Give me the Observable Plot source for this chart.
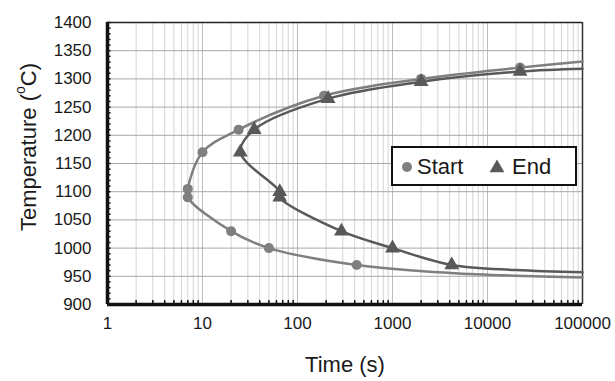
<!DOCTYPE html>
<html>
<head>
<meta charset="utf-8">
<script src="https://cdn.jsdelivr.net/npm/d3@7"></script>
<script src="https://cdn.jsdelivr.net/npm/@observablehq/plot@0.6"></script>
<style>
  html, body { margin: 0; padding: 0; background: #fff; }
  #chart svg { display: block; }
</style>
</head>
<body>
<div id="chart"></div>
<script>
// Measured transformation start / end points (time in s, temperature in °C)
const startTime = [24, 10, 7, 7, 20, 50, 190, 2000, 22000, 420];
const startTemp = [1210, 1170, 1105, 1090, 1030, 1000, 1270, 1300, 1320, 970];
const endTime = [35, 25, 65, 65, 290, 1000, 4200, 210, 2000, 22000];
const endTemp = [1210, 1170, 1100, 1090, 1030, 1000, 970, 1265, 1295, 1313];

// Fitted C-curves, ordered along the curve from the upper branch to the lower branch
const startCurveTime = [100000, 22000, 2000, 190, 24, 10, 7, 7, 20, 50, 420, 4000, 100000];
const startCurveTemp = [1331, 1320, 1300, 1270, 1210, 1170, 1105, 1090, 1030, 1000, 970, 956, 948];
const endCurveTime = [100000, 22000, 2000, 210, 35, 25, 65, 65, 290, 1000, 4200, 20000, 100000];
const endCurveTemp = [1318, 1313, 1295, 1265, 1210, 1170, 1100, 1090, 1030, 1000, 970, 961, 957];

// Axis ticks
const xTicks = [1, 10, 100, 1000, 10000, 100000];
const yTicks = [900, 950, 1000, 1050, 1100, 1150, 1200, 1250, 1300, 1350, 1400];

const startPts = startTime.map((t, i) => ({time: t, temp: startTemp[i]}));
const endPts = endTime.map((t, i) => ({time: t, temp: endTemp[i]}));
const startCurve = startCurveTime.map((t, i) => ({time: t, temp: startCurveTemp[i]}));
const endCurve = endCurveTime.map((t, i) => ({time: t, temp: endCurveTemp[i]}));

// Log minor grid: 2..9 within each decade
const xMinor = [];
for (let p = 0; p < 5; p++) for (let k = 2; k <= 9; k++) xMinor.push(k * 10 ** p);
const yMinor = d3.range(900, 1401, 10);

const startColor = "#7f7f7f";
const endColor = "#595959";
const font = "'Liberation Sans', Arial, sans-serif";

const chart = Plot.plot({
  width: 615,
  height: 381,
  marginLeft: 107,
  marginRight: 33,
  marginTop: 22,
  marginBottom: 77,
  style: {fontFamily: font, fontSize: "17px", color: "#1a1a1a", background: "#fff", overflow: "visible"},
  x: {type: "log", domain: [1, 100000], ticks: xTicks, tickFormat: d3.format("d"), tickSize: 0, tickPadding: 12, label: null},
  y: {domain: [900, 1400], ticks: yTicks, tickFormat: d3.format("d"), tickSize: 0, tickPadding: 16, label: null},
  marks: [
    // grid
    Plot.ruleX(xMinor, {stroke: "#d4d4d4", strokeWidth: 1}),
    Plot.ruleX(xTicks, {stroke: "#bdbdbd", strokeWidth: 1}),
    Plot.ruleY(yTicks, {stroke: "#a8a8a8", strokeWidth: 1}),
    // minor tick marks along the bottom and left axes
    Plot.ruleX(xMinor, {y1: 900, y2: 907, stroke: "#111", strokeWidth: 1.5}),
    Plot.ruleY(yMinor, {x1: 1, x2: 1.09, stroke: "#111", strokeWidth: 1.5}),
    // frame
    Plot.ruleY([1400], {stroke: "#222", strokeWidth: 1.5}),
    Plot.ruleX([100000], {stroke: "#333", strokeWidth: 1.5}),
    Plot.ruleX([1], {stroke: "#111", strokeWidth: 3.5}),
    Plot.ruleY([900], {stroke: "#111", strokeWidth: 3.5}),
    // curves
    Plot.line(startCurve, {x: "time", y: "temp", curve: "catmull-rom", stroke: startColor, strokeWidth: 2.5}),
    Plot.line(endCurve, {x: "time", y: "temp", curve: "catmull-rom", stroke: endColor, strokeWidth: 2.5}),
    // measured points
    Plot.dot(startPts, {x: "time", y: "temp", r: 5, fill: startColor, stroke: "none"}),
    Plot.dot(endPts, {x: "time", y: "temp", symbol: "triangle", r: 5.5, fill: endColor, stroke: "none"}),
    // x axis title
    Plot.text(["Time (s)"], {frameAnchor: "bottom", dy: 67, fontSize: 22, fill: "#1a1a1a"})
  ]
});

const svg = d3.select(chart);

// y axis title with a superscript "o" for degrees
const yt = svg.append("text")
  .attr("transform", "translate(28,147) rotate(-90)")
  .attr("text-anchor", "middle").attr("dominant-baseline", "central")
  .attr("font-family", font).attr("font-size", 22).attr("fill", "#1a1a1a");
yt.append("tspan").text("Temperature (");
yt.append("tspan").attr("font-size", 14).attr("dy", -8).text("o");
yt.append("tspan").attr("dy", 8).text("C)");

// Legend box inside the plot area
const lg = svg.append("g").attr("font-family", font).attr("font-size", 22)
  .attr("fill", "#1a1a1a").attr("text-anchor", "start");
lg.append("rect").attr("x", 392).attr("y", 147).attr("width", 184).attr("height", 38)
  .attr("fill", "#fff").attr("stroke", "#111").attr("stroke-width", 2);
lg.append("circle").attr("cx", 407).attr("cy", 167).attr("r", 5).attr("fill", startColor);
lg.append("text").attr("x", 417).attr("y", 174).text("Start");
lg.append("path").attr("d", d3.symbol(d3.symbolTriangle, 95)()).attr("transform", "translate(497,168)").attr("fill", endColor);
lg.append("text").attr("x", 512).attr("y", 174).text("End");

document.getElementById("chart").appendChild(chart);
</script>
</body>
</html>
